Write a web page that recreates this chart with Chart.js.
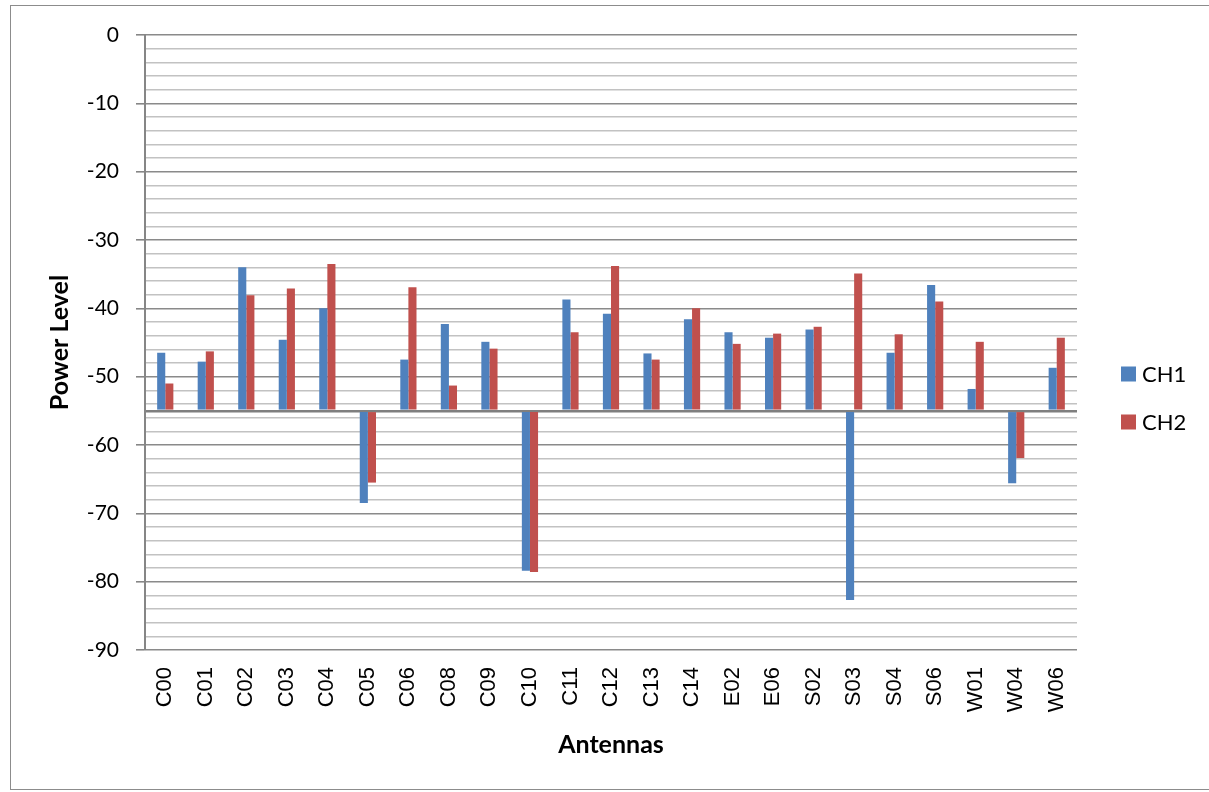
<!DOCTYPE html>
<html>
<head>
<meta charset="utf-8">
<script src="https://cdn.jsdelivr.net/npm/chart.js@4.4.1/dist/chart.umd.min.js"></script>
<style>
  body { margin: 0; background: #fff; }
  #wrap { position: relative; width: 1209px; height: 792px; }
  #frame { position: absolute; left: 10px; top: 5px; width: 1240px; height: 783px; border: 1.5px solid #8c8c8c; }
  canvas { position: absolute; left: 0; top: 0; }
</style>
</head>
<body>
<div id="wrap">
  <div id="frame"></div>
  <canvas id="chart"></canvas>
</div>
<script>
// antennas on the category axis
const antennas = ['C00', 'C01', 'C02', 'C03', 'C04', 'C05', 'C06', 'C08', 'C09', 'C10', 'C11', 'C12',
                  'C13', 'C14', 'E02', 'E06', 'S02', 'S03', 'S04', 'S06', 'W01', 'W04', 'W06'];

// power levels
const ch1 = [-46.5, -47.8, -34.0, -44.6, -40.0, -68.5, -47.5, -42.3, -44.9, -78.4, -38.7, -40.8,
             -46.6, -41.6, -43.5, -44.3, -43.1, -82.7, -46.5, -36.6, -51.8, -65.6, -48.7];
const ch2 = [-51.0, -46.3, -38.1, -37.1, -33.5, -65.5, -36.9, -51.3, -45.9, -78.6, -43.5, -33.8,
             -47.5, -40.0, -45.2, -43.7, -42.7, -34.9, -43.8, -39.0, -44.9, -61.9, -44.3];

// the category axis crosses the value axis here
const axisCross = -55;
const yMin = -90, yMax = 0, minorStep = 2, majorStep = 10;

const seriesNames = ['CH1', 'CH2'];
const seriesColors = ['#4f81bd', '#c0504d'];

// simple vertical legend on the right, like Excel
const sideLegend = {
    id: 'sideLegend',
    afterDraw(chart) {
        const ctx = chart.ctx;
        ctx.save();
        ctx.font = '22px Lato';
        ctx.textBaseline = 'middle';
        chart.data.datasets.forEach((ds, i) => {
            const cy = 374 + i * 48;
            ctx.fillStyle = ds.backgroundColor;
            ctx.fillRect(1121, cy - 7.5, 15, 15);
            ctx.fillStyle = '#000';
            ctx.fillText(ds.label, 1142, cy + 1);
        });
        ctx.restore();
    }
};

new Chart(document.getElementById('chart'), {
    type: 'bar',
    data: {
        labels: antennas,
        datasets: [ch1, ch2].map((d, i) => ({
            label: seriesNames[i],
            data: d,
            base: axisCross,
            backgroundColor: seriesColors[i],
            borderWidth: 0,
            categoryPercentage: 0.4,
            barPercentage: 1.0
        }))
    },
    options: {
        responsive: true,
        maintainAspectRatio: false,
        animation: false,
        layout: { padding: { top: 35, right: 132, bottom: 0, left: 0 } },
        plugins: { legend: { display: false }, tooltip: { enabled: false } },
        scales: {
            x: {
                grid: { display: false },
                border: { display: false },
                ticks: {
                    minRotation: 90, maxRotation: 90, padding: 9,
                    autoSkip: false,
                    color: '#000',
                    font: { family: 'Liberation Sans', size: 22 }
                },
                title: {
                    display: true, text: 'Antennas', color: '#000',
                    font: { family: 'Lato', size: 25, weight: 'bold' },
                    padding: { top: 0, bottom: 32 }
                },
                afterFit(scale) { scale.height = 142; }
            },
            y: {
                min: yMin, max: yMax,
                afterBuildTicks(scale) {
                    const t = [];
                    for (let v = yMin; v <= yMax; v += minorStep) t.push({ value: v });
                    t.push({ value: axisCross });
                    t.sort((a, b) => a.value - b.value);
                    scale.ticks = t;
                },
                afterFit(scale) { scale.width = 145; },
                border: { color: '#868686', width: 2 },
                grid: {
                    color: c => c.tick.value === axisCross ? '#7f7f7f'
                        : (c.tick.value % majorStep === 0 ? '#8a8a8a' : '#c2c2c2'),
                    lineWidth: c => c.tick.value === axisCross ? 2.5 : 1.6,
                    tickColor: c => (c.tick.value % majorStep === 0) ? '#868686' : 'rgba(0,0,0,0)',
                    tickLength: 9
                },
                ticks: {
                    padding: 17,
                    autoSkip: false,
                    color: '#000',
                    font: { family: 'Lato', size: 21 },
                    callback: v => (v % majorStep === 0 ? v : '')
                },
                title: {
                    display: true, text: 'Power Level', color: '#000',
                    font: { family: 'Lato', size: 25, weight: 'bold' },
                    padding: { top: 45, bottom: 0 }
                }
            }
        }
    },
    plugins: [sideLegend]
});
</script>
</body>
</html>
